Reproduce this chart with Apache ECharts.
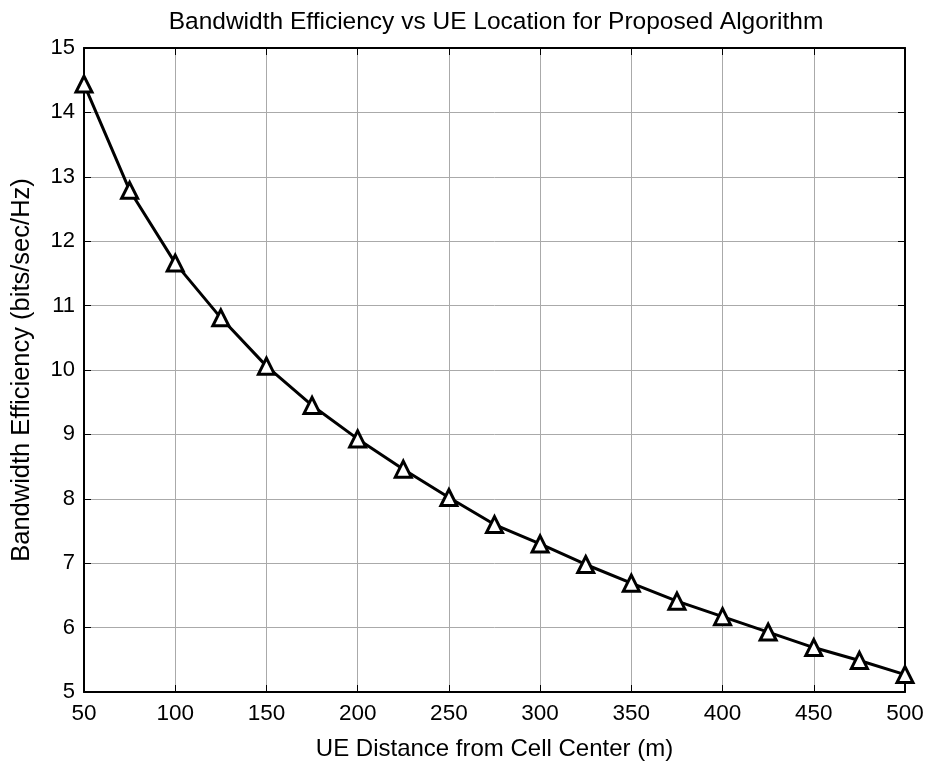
<!DOCTYPE html>
<html>
<head>
<meta charset="utf-8">
<script src="https://cdn.jsdelivr.net/npm/echarts@6/dist/echarts.min.js"></script>
<style>html,body{margin:0;padding:0;background:#fff;}#c{width:931px;height:766px;}</style>
</head>
<body>
<div id="c"></div>
<script>
const distances = [50, 75, 100, 125, 150, 175, 200, 225, 250, 275, 300, 325, 350, 375, 400, 425, 450, 475, 500];
const efficiency = [14.44, 12.79, 11.66, 10.81, 10.06, 9.45, 8.93, 8.46, 8.02, 7.6, 7.3, 6.98, 6.69, 6.41, 6.17, 5.93, 5.69, 5.49, 5.27];
const titleText = 'Bandwidth Efficiency vs UE Location for Proposed Algorithm';
const xName = 'UE Distance from Cell Center (m)';
const yName = 'Bandwidth Efficiency (bits/sec/Hz)';

const font = 'Liberation Sans, Arial, sans-serif';
const chart = echarts.init(document.getElementById('c'), null, {renderer: 'canvas'});
const gridLine = {show: true, lineStyle: {color: '#aaaaaa', width: 1}};
chart.setOption({
  animation: false,
  backgroundColor: '#fff',
  title: {
    text: titleText, left: 491, top: 5, textAlign: 'center',
    textStyle: {fontFamily: font, fontSize: 24.5, fontWeight: 'normal', color: '#000'}
  },
  grid: {left: 84, right: 26, top: 48, bottom: 71, containLabel: false},
  xAxis: [{
    type: 'value', min: 50, max: 500, interval: 50,
    name: xName, nameLocation: 'middle', nameGap: 45,
    nameTextStyle: {fontFamily: font, fontSize: 24, color: '#000'},
    axisLine: {show: true, onZero: false, lineStyle: {color: '#000', width: 2}},
    axisTick: {show: true, inside: true, length: 7, lineStyle: {color: '#000', width: 1}},
    axisLabel: {fontFamily: font, fontSize: 22.5, color: '#000', margin: 10},
    splitLine: gridLine
  }, {
    type: 'value', position: 'top', min: 50, max: 500, interval: 50,
    axisLine: {show: true, lineStyle: {color: '#000', width: 2}},
    axisTick: {show: true, inside: true, length: 7, lineStyle: {color: '#000', width: 1}},
    axisLabel: {show: false}, splitLine: {show: false}
  }],
  yAxis: [{
    type: 'value', min: 5, max: 15, interval: 1,
    name: yName, nameLocation: 'middle', nameGap: 49, nameRotate: 90,
    nameTextStyle: {fontFamily: font, fontSize: 25.5, color: '#000'},
    axisLine: {show: true, onZero: false, lineStyle: {color: '#000', width: 2}},
    axisTick: {show: true, inside: true, length: 7, lineStyle: {color: '#000', width: 1}},
    axisLabel: {fontFamily: font, fontSize: 22, color: '#000', margin: 9},
    splitLine: gridLine
  }, {
    type: 'value', position: 'right', min: 5, max: 15, interval: 1,
    axisLine: {show: true, lineStyle: {color: '#000', width: 2}},
    axisTick: {show: true, inside: true, length: 7, lineStyle: {color: '#000', width: 1}},
    axisLabel: {show: false}, splitLine: {show: false}
  }],
  series: [{
    type: 'line',
    data: distances.map((d, i) => [d, efficiency[i]]),
    lineStyle: {color: '#000', width: 3},
    symbol: 'triangle', symbolSize: 16,
    itemStyle: {color: '#fff', borderColor: '#000', borderWidth: 3},
    clip: false, z: 5
  }]
});
</script>
</body>
</html>
